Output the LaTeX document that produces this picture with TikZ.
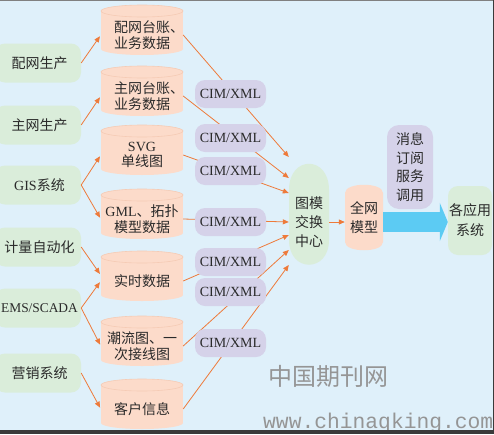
\documentclass[tikz,border=0pt]{standalone}
\usepackage{fontspec}
\setmainfont{Noto Sans CJK SC}
\newfontfamily\lat{Liberation Serif}
\newfontfamily\wmono{Liberation Mono}
\usepackage{tikz}
\usetikzlibrary{calc,arrows.meta}
\definecolor{ceu}{HTML}{DFF0FA}
\definecolor{verdinho}{HTML}{DAEDDA}
\definecolor{pessego}{HTML}{FCDBCA}
\definecolor{aro}{HTML}{F5CBB5}
\definecolor{lilas}{HTML}{D5D2E9}
\definecolor{laranja}{HTML}{EE7A3A}
\definecolor{celeste}{HTML}{5CCBF3}
\definecolor{tinta}{HTML}{2A2A2A}
\definecolor{marca}{HTML}{959595}
\definecolor{tarja}{HTML}{3A3A3A}

\begin{document}
\begin{tikzpicture}[x=1pt,y=-1pt, font=\fontsize{14}{15.5}\selectfont, text=tinta,
  sys/.style={fill=verdinho, rounded corners=10pt, minimum width=86pt, minimum height=39pt, inner sep=0pt},
  db/.style={minimum width=82pt, inner sep=0pt, align=center},
  cim/.style={fill=lilas, rounded corners=10pt, minimum width=71pt, minimum height=28pt, inner sep=0pt, font=\lat\fontsize{14}{16}\selectfont},
  pilha/.style={inner sep=0pt, align=center, font=\fontsize{14}{19}\selectfont},
  ar/.style={draw=laranja, line width=0.8pt, -{Triangle[length=6pt,width=5pt]}}]
  \useasboundingbox (0,0) rectangle (494,434);
  \fill[ceu] (0,0) rectangle (494,434);
  % fontes de dados
  \foreach \n/\y/\t in {s1/63/配网生产, s2/125/主网生产, s3/185/{{\lat GIS}系统}, s4/247/计量自动化, s5/308/{\lat\fontsize{13.4}{15}\selectfont EMS/SCADA}, s6/373/营销系统}
    \node[sys] (\n) at (38,\y) {\hspace*{3pt}\t};
  % bancos
  \foreach \n/\y/\t in {c1/30/{配网台账\rlap{、}\\业务数据}, c2/91/{主网台账\rlap{、}\\业务数据}, c3/150/{{\lat SVG}\\单线图}, c4/214/{{\lat GML}、拓扑\\模型数据}, c5/276/实时数据, c6/341/{潮流图、一\\次接线图}, c7/404/客户信息}{
    \fill[pessego] (101,\y-19) rectangle (183,\y+19);
    \fill[pessego] (142,\y+19) ellipse [x radius=41, y radius=6];
    \fill[pessego] (142,\y-19) ellipse [x radius=41, y radius=6];
    \draw[aro, line width=0.6pt] (142,\y-19) ellipse [x radius=41, y radius=6];
    \node[db] (\n) at (142,\y+5) {\t};}
  % centro, modelo, servico, aplicacoes
  \fill[verdinho] (289,190) -- (289,240) .. controls (289,273) and (329,273) .. (329,240) -- (329,190) .. controls (329,155) and (289,155) .. (289,190);
  \node[pilha, minimum width=40pt] (hub) at (309,222) {图模\\交换\\中心};
  \fill[pessego] (345,193) -- (345,242) .. controls (345,253) and (383,253) .. (383,242) -- (383,193) .. controls (383,182) and (345,182) .. (345,193);
  \node[pilha, minimum width=38pt] (model) at (364,218) {全网\\模型};
  \node[pilha, fill=lilas, rounded corners=12pt, minimum width=46pt, minimum height=84pt, font=\fontsize{14}{18.5}\selectfont] (msg) at (410,167) {消息\\订阅\\服务\\调用};
  \node[pilha, fill=verdinho, rounded corners=10pt, minimum width=44pt, minimum height=69pt, font=\fontsize{14}{20}\selectfont] (app) at (470,220.5) {各应用\\系统};
  \draw[celeste, line width=20pt, -{Triangle[length=8pt,width=38pt]}] (model.east |- hub.east) -- (app.west |- hub.east);
  \draw[ar] (hub.east) -- (hub.east -| model.west);
  % ligacoes
  \foreach \a/\b in {s1/c1.west, s2/c2.west, s3/c3.west, s3/c4.west, s4/c5.172, s5/c5.west, s5/c6.west, s6/c7.west}
    \draw[ar, shorten >=1.5pt] (\a.east) -- (\b);
  \foreach \i/\d in {1/-65, 2/-44, 3/-29, 4/0, 5/13, 6/28, 7/43}
    \draw[ar] (c\i.east) -- ($(hub.west)+(0,\d)$);
  \foreach \n/\y in {x1/94, x2/138, x3/171, x4/222, x5/262, x6/292, x7/343}
    \node[cim] (\n) at (230.5,\y) {CIM/XML};
  % marca d'agua
  \node[text=marca, inner sep=0pt, font=\fontsize{24}{24}\selectfont] (wm) at (328,376) {中国期刊网};
  \node[text=marca, inner sep=0pt, anchor=base west, font=\wmono\fontsize{21.3}{22}\selectfont] (url) at (263,428) {www.chinaqking.com};
  \fill[tarja] (0,430) rectangle (494,434);
  \draw[gray, line width=1pt] (0,0.5) -- (494,0.5);
  \draw[tarja, line width=1pt] (493.5,0) -- (493.5,434);
\end{tikzpicture}
\end{document}
